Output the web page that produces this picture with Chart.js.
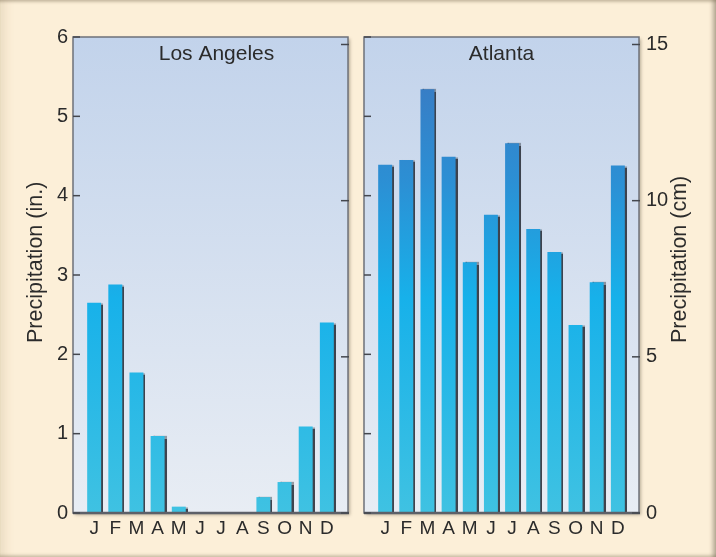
<!DOCTYPE html>
<html lang="en">
<head>
<meta charset="UTF-8">
<title>Monthly precipitation: Los Angeles and Atlanta</title>
<script src="https://cdn.jsdelivr.net/npm/chart.js@4.4.0/dist/chart.umd.min.js"></script>
<style>
  body { margin: 0; background: #fcefd8; }
  .frame {
    position: relative;
    width: 716px;
    height: 557px;
    background: #fcefd8;
    overflow: hidden;
    box-shadow: inset 0 4px 3px -2px rgba(110,95,70,0.35),
                inset -6px 0 4px -3px rgba(90,80,65,0.45),
                inset 0 -4px 3px -2px rgba(110,95,70,0.3),
                inset 14px 0 8px -8px rgba(150,130,90,0.15);
  }
  canvas { position: absolute; top: 0; }
  #laChart { left: 0; }
  #atlChart { left: 356px; }
</style>
</head>
<body>
<div class="frame">
  <canvas id="laChart" width="356" height="557"></canvas>
  <canvas id="atlChart" width="360" height="557"></canvas>
</div>

<script>
// data (inches)
const months = ['J', 'F', 'M', 'A', 'M', 'J', 'J', 'A', 'S', 'O', 'N', 'D'];
const losAngelesIn = [2.65, 2.88, 1.77, 0.97, 0.08, 0, 0, 0, 0.2, 0.39, 1.09, 2.4];
const atlantaIn = [4.39, 4.45, 5.34, 4.49, 3.16, 3.76, 4.66, 3.58, 3.29, 2.37, 2.91, 4.38];
const inchTicks = [0, 1, 2, 3, 4, 5, 6];
const cmTicks = [0, 5, 10, 15];
const CM_PER_INCH = 2.54;

const FONT = "'Liberation Sans', Arial, Helvetica, sans-serif";
const TEXT = '#2b2b2b';

// bars share one vertical gradient over the plot area
function barFill(context) {
    const area = context.chart.chartArea;
    if (!area) return '#1cb4ea';
    const g = context.chart.ctx.createLinearGradient(0, area.top, 0, area.bottom);
    g.addColorStop(0, '#3d74bd');
    g.addColorStop(0.3, '#2c8fd4');
    g.addColorStop(0.55, '#17b1ea');
    g.addColorStop(1, '#3fc2e2');
    return g;
}

// panel background, frame, inward ticks and the text labels
const panelPlugin = {
    id: 'panel',
    beforeDraw(chart) {
        const { ctx, chartArea: a } = chart;
        ctx.save();
        ctx.shadowColor = 'rgba(60,50,30,0.35)';
        ctx.shadowOffsetX = 2;
        ctx.shadowOffsetY = 2;
        ctx.shadowBlur = 3;
        const g = ctx.createLinearGradient(0, a.top, 0, a.bottom);
        g.addColorStop(0, '#c2d3eb');
        g.addColorStop(1, '#e8edf4');
        ctx.fillStyle = g;
        ctx.fillRect(a.left, a.top, a.width, a.height);
        ctx.restore();
    },
    beforeDatasetsDraw(chart) {
        const ctx = chart.ctx;
        ctx.save();
        ctx.shadowColor = 'rgba(45,50,60,0.9)';
        ctx.shadowOffsetX = 2;
        ctx.shadowOffsetY = 0;
        ctx.shadowBlur = 1;
    },
    afterDatasetsDraw(chart, args, opts) {
        const { ctx, chartArea: a } = chart;
        ctx.restore();

        // frame
        ctx.save();
        ctx.strokeStyle = '#6e727a';
        ctx.lineWidth = 1.5;
        ctx.strokeRect(a.left, a.top, a.width, a.height);
        ctx.strokeStyle = '#5d6068';
        ctx.lineWidth = 2.5;
        ctx.beginPath();
        ctx.moveTo(a.left, a.bottom);
        ctx.lineTo(a.right + 1, a.bottom);
        ctx.stroke();

        // tick marks pointing into the panel
        ctx.strokeStyle = '#44474e';
        ctx.lineWidth = 1.5;
        ['y', 'cm'].forEach(id => {
            const s = chart.scales[id];
            const onLeft = s.position === 'left';
            s.ticks.forEach(t => {
                const y = s.getPixelForValue(t.value);
                ctx.beginPath();
                if (onLeft) {
                    ctx.moveTo(a.left, y);
                    ctx.lineTo(a.left + 7, y);
                } else {
                    ctx.moveTo(a.right - 7, y);
                    ctx.lineTo(a.right + 1, y);
                }
                ctx.stroke();
            });
        });

        // city name inside the panel
        ctx.fillStyle = TEXT;
        ctx.font = '21px ' + FONT;
        ctx.textAlign = 'center';
        ctx.textBaseline = 'middle';
        ctx.fillText(opts.title, (a.left + a.right) / 2 + opts.titleShift, a.top + 17);

        // axis title, reading bottom to top on both sides
        ctx.translate(opts.axisX, a.top + 306);
        ctx.rotate(-Math.PI / 2);
        ctx.textAlign = 'left';
        ctx.font = '21.5px ' + FONT;
        ctx.fillText(opts.axisTitle, 0, 0);
        ctx.restore();
    }
};

function makeChart(id, values, cfg) {
    return new Chart(document.getElementById(id), {
        type: 'bar',
        data: {
            datasets: [{
                data: values.map((v, i) => ({ x: i, y: v })),
                backgroundColor: barFill,
                barPercentage: 0.66,
                categoryPercentage: 1,
                yAxisID: 'y'
            }]
        },
        options: {
            responsive: false,
            animation: false,
            layout: { padding: { top: 37, left: 0, right: 0, bottom: 0 } },
            plugins: {
                legend: { display: false },
                tooltip: { enabled: false },
                panel: cfg.panel
            },
            scales: {
                x: {
                    type: 'linear',
                    offset: false,
                    min: -1,
                    max: 12,
                    afterBuildTicks: s => { s.ticks = months.map((m, i) => ({ value: i })); },
                    afterFit: s => { s.height = 44; },
                    grid: { display: false, drawTicks: false, offset: false },
                    border: { display: false },
                    ticks: {
                        callback: v => months[v],
                        autoSkip: false,
                        maxRotation: 0,
                        padding: 4,
                        color: TEXT,
                        font: { family: FONT, size: 19 }
                    }
                },
                y: {
                    position: 'left',
                    min: 0,
                    max: 6,
                    afterBuildTicks: s => { s.ticks = inchTicks.map(v => ({ value: v })); },
                    afterFit: s => { s.width = cfg.leftWidth; },
                    grid: { display: false, drawTicks: false },
                    border: { display: false },
                    ticks: {
                        display: cfg.inchLabels,
                        padding: 5,
                        color: TEXT,
                        font: { family: FONT, size: 20 }
                    }
                },
                cm: {
                    position: 'right',
                    min: 0,
                    max: 6 * CM_PER_INCH,
                    afterBuildTicks: s => { s.ticks = cmTicks.map(v => ({ value: v })); },
                    afterFit: s => { s.width = cfg.rightWidth; },
                    grid: { display: false, drawTicks: false },
                    border: { display: false },
                    ticks: {
                        display: cfg.cmLabels,
                        padding: 7,
                        color: TEXT,
                        font: { family: FONT, size: 20 }
                    }
                }
            }
        },
        plugins: [panelPlugin]
    });
}

makeChart('laChart', losAngelesIn, {
    leftWidth: 73,
    rightWidth: 8,
    inchLabels: true,
    cmLabels: false,
    panel: { title: 'Los Angeles', titleShift: 6, axisTitle: 'Precipitation (in.)', axisX: 36 }
});

makeChart('atlChart', atlantaIn, {
    leftWidth: 8,
    rightWidth: 77,
    inchLabels: false,
    cmLabels: true,
    panel: { title: 'Atlanta', titleShift: 0, axisTitle: 'Precipitation (cm)', axisX: 324 }
});
</script>
</body>
</html>
